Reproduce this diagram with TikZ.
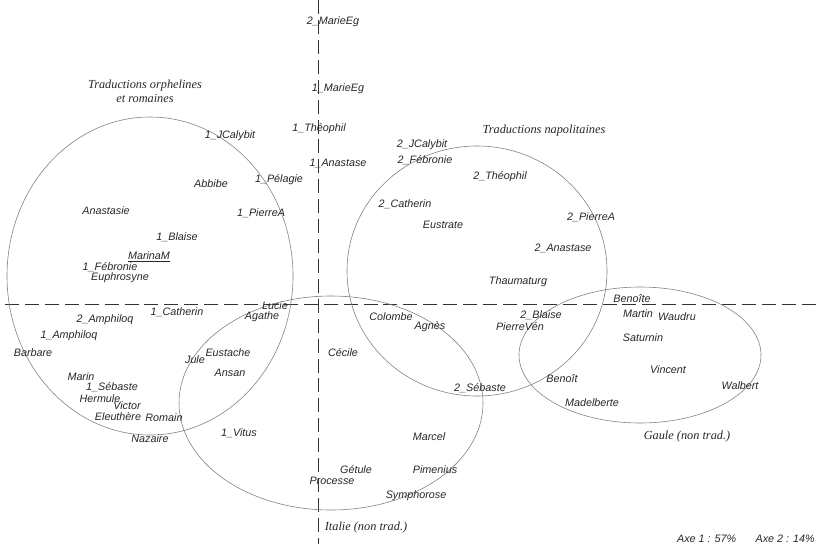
\documentclass[tikz,border=0pt]{standalone}
\usepackage{fontspec}
\setmainfont{Liberation Sans}
\newfontfamily\grpfont{Liberation Serif}

\tikzset{
  pt/.style={font=\fontsize{9.2}{11}\selectfont\itshape, text=black!85, inner sep=0pt},
  grp/.style={font=\fontsize{10.5}{12}\selectfont\grpfont\itshape, text=black!85, inner sep=0pt, align=center},
  axis/.style={dash pattern=on 12pt off 5pt, line width=0.75pt, draw=black!80},
  zone/.style={draw=black!50, line width=0.5pt}
}

\begin{document}
\begin{tikzpicture}[x=0.03cm, y=-0.03cm]
    \useasboundingbox (0,0) rectangle (817,550);

    % axes
    \coordinate (top) at (318,0);
    \coordinate (bot) at (318,544);
    \coordinate (lft) at (5,304);
    \coordinate (rgt) at (817,304);
    \draw[axis] (top) -- (bot);
    \draw[axis] (lft) -- (rgt);

    % groupes
    \draw[zone] (150,276) ellipse [x radius=143, y radius=159];
    \draw[zone] (331,403) ellipse [x radius=152, y radius=107];
    \draw[zone] (477,271) ellipse [x radius=130, y radius=125];
    \draw[zone] (640,355) ellipse [x radius=121, y radius=68];

    \node[grp] (orph) at (145,91) {Traductions orphelines\\ et romaines};
    \node[grp] (napl) at (544,131) {Traductions napolitaines};
    \node[grp] (gaul) at (687,437) {Gaule (non trad.)};
    \node[grp] (ital) at (366,528) {Italie (non trad.)};

    % textes
    \foreach [count=\i] \x/\y/\t in {
        333/22/2\_MarieEg, 338/89/1\_MarieEg, 319/129/1\_Théophil, 338/163/1\_Anastase,
        422/145/2\_JCalybit, 425/160/2\_Fébronie, 500/177/2\_Théophil, 405/204/2\_Catherin,
        443/225/Eustrate, 591/217/2\_PierreA, 563/248/2\_Anastase, 518/282/Thaumaturg,
        230/136/1\_JCalybit, 211/184/Abbibe, 279/180/1\_Pélagie, 106/211/Anastasie,
        261/213/1\_PierreA, 177/237/1\_Blaise, 149/257/\underline{MarinaM}, 110/267/1\_Fébronie,
        120/278/Euphrosyne, 177/312/1\_Catherin, 275/306/Lucie, 262/317/Agathe,
        105/320/2\_Amphiloq, 69/336/1\_Amphiloq, 33/353/Barbare, 195/360/Jule,
        228/353/Eustache, 230/373/Ansan, 81/377/Marin, 112/387/1\_Sébaste,
        100/399/Hermule, 127/406/Victor, 118/417/Eleuthère, 164/418/Romain,
        150/439/Nazaire, 239/433/1\_Vitus, 391/317/Colombe, 430/327/Agnès,
        541/315/2\_Blaise, 520/327/PierreVén, 343/353/Cécile, 480/388/2\_Sébaste,
        632/299/Benoîte, 638/314/Martin, 677/317/Waudru, 643/338/Saturnin,
        668/370/Vincent, 740/386/Walbert, 562/379/Benoît, 592/403/Madelberte,
        429/437/Marcel, 356/470/Gétule, 435/470/Pimenius, 332/481/Processe,
        416/496/Symphorose}
        \node[pt] (p\i) at (\x,\y) {\t};

    \node[pt, anchor=east] (axes) at (815,539) {Axe 1 : 57\%\hspace{1.8em}Axe 2 : 14\%};
\end{tikzpicture}
\end{document}
